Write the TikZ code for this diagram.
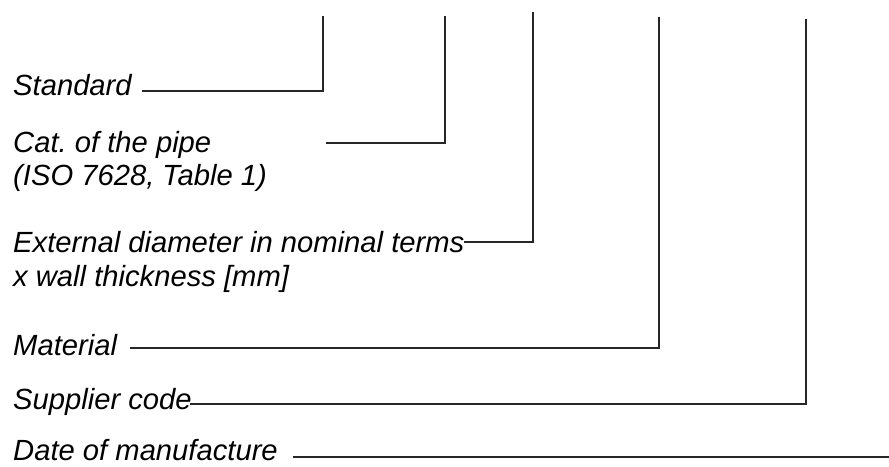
\documentclass[tikz,border=0pt]{standalone}
\usepackage{fontspec}
\setmainfont{Liberation Sans}
\frenchspacing
\begin{document}
\begin{tikzpicture}[x=1pt,y=-1pt,
  lbl/.style={anchor=base west,inner sep=0pt,font=\fontsize{29.2}{34}\selectfont\itshape},
  lead/.style={line width=1.7pt,draw=black!85}]
\useasboundingbox (0,0) rectangle (889,466);
\fill[white] (0,0) rectangle (889,466);
% labels
\node[lbl] (std) at (13,95) {Standard};
\node[lbl] (cat1) at (13,152) {Cat.\ of the pipe};
\node[lbl] (cat2) at (13,185) {(ISO 7628, Table 1)};
\node[lbl] (ext1) at (13,252) {External diameter in nominal terms};
\node[lbl] (ext2) at (13,286) {x wall thickness [mm]};
\node[lbl] (mat) at (13,355) {Material};
\node[lbl] (sup) at (13,409) {Supplier code};
\node[lbl] (date) at (13,460) {Date of manufacture};
% connector ends
\coordinate (s1) at (142,91);  \coordinate (t1) at (323,16);
\coordinate (s2) at (326,143); \coordinate (t2) at (445,16);
\coordinate (s3) at (464,242); \coordinate (t3) at (533,12);
\coordinate (s4) at (130,348); \coordinate (t4) at (659,17);
\coordinate (s5) at (190,404); \coordinate (t5) at (806,19);
\coordinate (s6) at (293,457); \coordinate (t6) at (889,457);
\draw[lead] (s1) -| (t1);
\draw[lead] (s2) -| (t2);
\draw[lead] (s3) -| (t3);
\draw[lead] (s4) -| (t4);
\draw[lead] (s5) -| (t5);
\draw[lead] (s6) -- (t6);
\end{tikzpicture}
\end{document}
